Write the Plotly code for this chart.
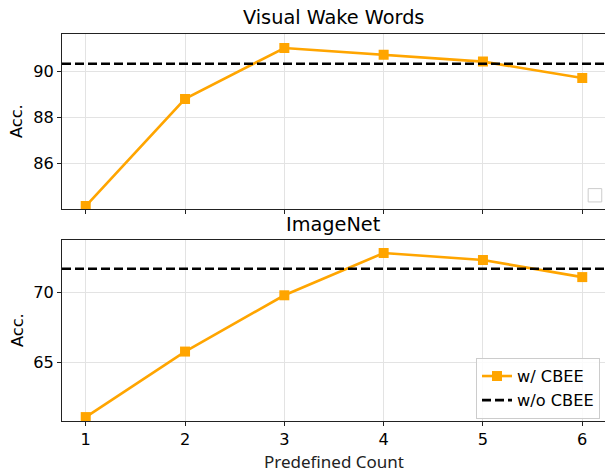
import plotly.graph_objects as go
from plotly.subplots import make_subplots

counts = [1, 2, 3, 4, 5, 6]
vww_cbee = [84.14, 88.80, 91.01, 90.72, 90.42, 89.71]
vww_base = 90.33
imnet_cbee = [61.11, 65.79, 69.81, 72.83, 72.33, 71.11]
imnet_base = 71.71
panel_titles = ["Visual Wake Words", "ImageNet"]
series_names = ["w/ CBEE", "w/o CBEE"]

ORANGE = "#FFA500"
FONT = "DejaVu Sans"
FS = 16.2
TFS = 19.3

fig = make_subplots(rows=2, cols=1, shared_xaxes=True, vertical_spacing=0.08)

fig.add_trace(go.Scatter(x=counts, y=vww_cbee, mode="lines+markers",
                         line=dict(color=ORANGE, width=2.6),
                         marker=dict(symbol="square", size=10, color=ORANGE),
                         showlegend=False), row=1, col=1)
fig.add_trace(go.Scatter(x=counts, y=imnet_cbee, mode="lines+markers", name=series_names[0],
                         line=dict(color=ORANGE, width=2.6),
                         marker=dict(symbol="square", size=10, color=ORANGE),
                         showlegend=True), row=2, col=1)
fig.add_trace(go.Scatter(x=[None], y=[None], mode="lines", name=series_names[1],
                         line=dict(color="black", width=2.6, dash="9px,4px"),
                         showlegend=True), row=2, col=1)

fig.add_shape(type="line", xref="x domain", x0=0, x1=1, yref="y", y0=vww_base, y1=vww_base,
              line=dict(color="black", width=2.6, dash="9px,4px"), layer="above")
fig.add_shape(type="line", xref="x2 domain", x0=0, x1=1, yref="y2", y0=imnet_base, y1=imnet_base,
              line=dict(color="black", width=2.6, dash="9px,4px"), layer="above")

# empty legend box in top panel
fig.add_shape(type="rect", xref="x domain", yref="y domain", x0=0.969, x1=0.994, y0=0.042, y1=0.118,
              line=dict(color="#cccccc", width=1), fillcolor="white", layer="above")

axis_common = dict(showline=True, linecolor="#222222", linewidth=1, mirror=True,
                   ticks="outside", ticklen=4, tickcolor="#222222", tickwidth=1,
                   showgrid=True, gridcolor="#e3e3e3", gridwidth=1, zeroline=False,
                   automargin=False,
                   tickfont=dict(family=FONT, size=FS, color="black"))

fig.update_xaxes(**axis_common, range=[0.761, 6.229], tickvals=counts)
fig.update_xaxes(showticklabels=False, row=1, col=1)

fig.update_yaxes(**axis_common)
fig.update_yaxes(range=[84.0, 91.62], tickvals=[86, 88, 90], row=1, col=1)
fig.update_yaxes(range=[60.83, 73.76], tickvals=[65, 70], row=2, col=1)

fig.update_layout(
    width=605, height=472,
    margin=dict(l=62, r=0, t=34, b=51, autoexpand=False),
    paper_bgcolor="white", plot_bgcolor="white",
    font=dict(family=FONT, size=FS, color="black"),
    legend=dict(x=(476 - 62) / 543, y=(421 - 388.5) / 387, xanchor="left", yanchor="middle",
                bgcolor="rgba(255,255,255,0.85)", bordercolor="#cccccc", borderwidth=1,
                font=dict(family=FONT, size=FS, color="black"), tracegroupgap=0,
                itemwidth=30),
)
fig.update_layout(yaxis=dict(domain=[0.547, 1.0]), yaxis2=dict(domain=[0.0, 0.4677]))

fig.add_annotation(text=panel_titles[0], xref="paper", yref="paper", x=0.5, y=1.0,
                   xanchor="center", yanchor="bottom", yshift=3, showarrow=False,
                   font=dict(family=FONT, size=TFS, color="black"))
fig.add_annotation(text=panel_titles[1], xref="paper", yref="paper", x=0.5, y=0.4677,
                   xanchor="center", yanchor="bottom", yshift=2, showarrow=False,
                   font=dict(family=FONT, size=TFS, color="black"))
for yc in ((121 - 34) / 387, (330 - 34) / 387):
    fig.add_annotation(text="Acc.", xref="paper", yref="paper", x=(17 - 62) / 543, y=1 - yc,
                       xanchor="center", yanchor="middle", textangle=-90, showarrow=False,
                       font=dict(family=FONT, size=FS, color="black"))
fig.add_annotation(text="Predefined Count", xref="paper", yref="paper", x=0.5, y=(421 - 462) / 387,
                   xanchor="center", yanchor="middle", showarrow=False,
                   font=dict(family="Noto Sans", size=17, color="#222"))

fig.write_html("out.html", config={"displayModeBar": False},
               post_script="document.body.style.margin='0';document.body.style.overflow='hidden';")
